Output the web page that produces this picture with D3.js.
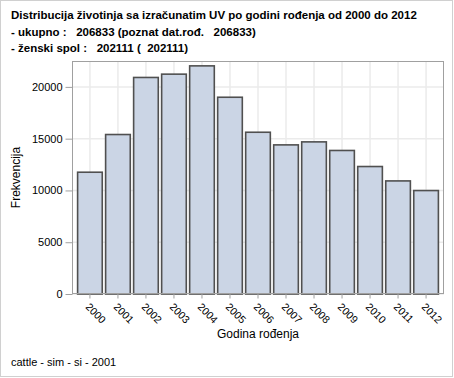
<!DOCTYPE html>
<html>
<head>
<meta charset="utf-8">
<script src="https://cdn.jsdelivr.net/npm/d3@7"></script>
<style>
  body { margin: 0; background: #fff; }
  svg { display: block; font-family: "Liberation Sans", Arial, sans-serif; }
  .title { white-space: pre; }
</style>
</head>
<body>
<svg id="chart" width="454" height="378"></svg>
<script>
// chart data
var years = ["2000", "2001", "2002", "2003", "2004", "2005", "2006",
             "2007", "2008", "2009", "2010", "2011", "2012"];
var counts = [11760, 15400, 20910, 21230, 22030, 19000, 15620,
              14400, 14690, 13860, 12310, 10920, 9990];
var yTicks = [0, 5000, 10000, 15000, 20000];
var titleLines = [
  "Distribucija životinja sa izračunatim UV po godini rođenja od 2000 do 2012",
  "- ukupno :   206833 (poznat dat.rođ.   206833)",
  "- ženski spol :   202111 (  202111)"
];

var svg = d3.select("#chart");
var margin = {top: 61, right: 10, bottom: 84, left: 72};
var width = 454, height = 378;

// outer frame
svg.append("rect")
  .attr("x", 0.5).attr("y", 0.5)
  .attr("width", width - 2).attr("height", height - 2)
  .attr("fill", "#fff").attr("stroke", "#d0d0d0");

// title
svg.append("g").selectAll("text")
  .data(titleLines)
  .enter().append("text")
    .attr("class", "title")
    .attr("x", 11)
    .attr("y", function(d, i) { return 19 + i * 16.7; })
    .attr("font-size", "11.5px")
    .attr("font-weight", "bold")
    .attr("fill", "#000")
    .text(function(d) { return d; });

var x = d3.scaleBand()
  .domain(years)
  .range([margin.left, width - margin.right])
  .paddingInner(0.12)
  .paddingOuter(0.2);

var y = d3.scaleLinear()
  .domain([0, 22500])
  .range([height - margin.bottom, margin.top]);

var plotW = width - margin.right - margin.left;
var plotB = height - margin.bottom;

// grid
svg.append("g").selectAll("line")
  .data(yTicks)
  .enter().append("line")
    .attr("x1", margin.left).attr("x2", width - margin.right)
    .attr("y1", function(d) { return y(d); })
    .attr("y2", function(d) { return y(d); })
    .attr("stroke", "#ebebeb").attr("stroke-width", 1.5);

svg.append("g").selectAll("line")
  .data(years)
  .enter().append("line")
    .attr("x1", function(d) { return x(d) + x.bandwidth() / 2; })
    .attr("x2", function(d) { return x(d) + x.bandwidth() / 2; })
    .attr("y1", margin.top).attr("y2", plotB)
    .attr("stroke", "#ebebeb").attr("stroke-width", 1.5);

// bars
svg.append("g").selectAll("rect")
  .data(counts)
  .enter().append("rect")
    .attr("x", function(d, i) { return x(years[i]); })
    .attr("y", function(d) { return y(d); })
    .attr("width", x.bandwidth())
    .attr("height", function(d) { return plotB - y(d); })
    .attr("fill", "#cbd5e5")
    .attr("stroke", "#505050")
    .attr("stroke-width", 1.6);

// plot frame
svg.append("rect")
  .attr("x", margin.left + 0.5).attr("y", margin.top + 0.5)
  .attr("width", plotW - 1).attr("height", plotB - margin.top - 1)
  .attr("fill", "none").attr("stroke", "#a0a0a0");

// y axis
var yAxis = d3.axisLeft(y)
  .tickValues(yTicks)
  .tickSize(7)
  .tickPadding(3)
  .tickFormat(d3.format("d"));

var gy = svg.append("g")
  .attr("transform", "translate(" + (margin.left + 0.5) + ",0)")
  .call(yAxis);
gy.select(".domain").remove();
gy.selectAll(".tick line").attr("stroke", "#a0a0a0");
gy.selectAll(".tick text")
  .attr("font-family", "Liberation Sans, Arial, sans-serif")
  .attr("font-size", "11px").attr("fill", "#000");

// x axis
var xAxis = d3.axisBottom(x).tickSize(5).tickPadding(0);
var gx = svg.append("g")
  .attr("transform", "translate(0," + (plotB - 0.5) + ")")
  .call(xAxis);
gx.select(".domain").remove();
gx.selectAll(".tick line").attr("stroke", "#a0a0a0");
gx.selectAll(".tick text")
  .attr("font-family", "Liberation Sans, Arial, sans-serif")
  .attr("font-size", "10.5px").attr("fill", "#000")
  .attr("text-anchor", "start")
  .attr("dy", null)
  .attr("y", 0)
  .attr("transform", "translate(-5,14) rotate(45)");

// axis titles
svg.append("text")
  .attr("transform", "translate(20," + ((margin.top + plotB) / 2) + ") rotate(-90)")
  .attr("text-anchor", "middle")
  .attr("font-size", "12px")
  .text("Frekvencija");

svg.append("text")
  .attr("x", margin.left + plotW / 2)
  .attr("y", 338)
  .attr("text-anchor", "middle")
  .attr("font-size", "12px")
  .text("Godina rođenja");

// footnote
svg.append("text")
  .attr("x", 11).attr("y", 366)
  .attr("font-size", "11px")
  .text("cattle - sim - si - 2001");
</script>
</body>
</html>
